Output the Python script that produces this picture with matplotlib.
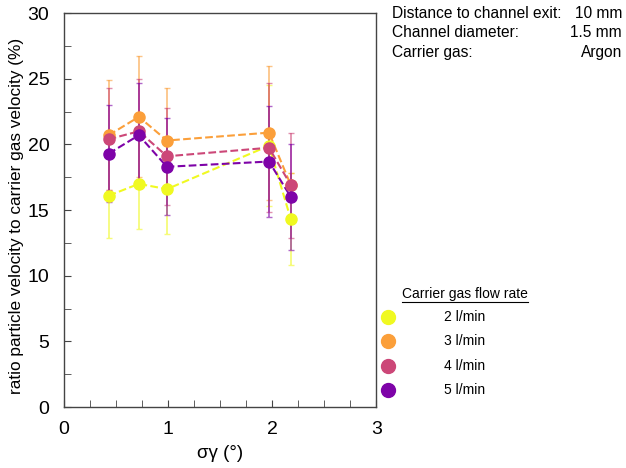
import numpy as np
import matplotlib.pyplot as plt
from matplotlib.lines import Line2D
from matplotlib.ticker import MultipleLocator

plt.rcParams['font.family'] = ['Liberation Sans', 'DejaVu Sans']

# sigma gamma (°)
sigma = [0.43, 0.72, 0.99, 1.97, 2.18]

flow_labels = ["2 l/min", "3 l/min", "4 l/min", "5 l/min"]
colors = ["#f0f921", "#fb9f3a", "#cc4778", "#7e03a8"]

# ratio particle / carrier gas velocity (%) and error
v2 = [16.1, 17.0, 16.6, 19.9, 14.3]
e2 = [3.2, 3.4, 3.4, 4.6, 3.5]
v3 = [20.7, 22.1, 20.3, 20.9, 16.9]
e3 = [4.2, 4.6, 4.0, 5.1, 0.9]
v4 = [20.4, 21.0, 19.1, 19.75, 16.9]
e4 = [3.9, 4.0, 3.7, 4.9, 4.0]
v5 = [19.3, 20.7, 18.3, 18.7, 16.0]
e5 = [3.7, 4.0, 3.7, 4.2, 4.0]

values = [v2, v3, v4, v5]
errors = [e2, e3, e4, e5]

fig = plt.figure(figsize=(6.26, 4.68), dpi=100)
ax = fig.add_axes([0.102, 0.130, 0.499, 0.842])

for v, e, c in zip(values, errors, colors):
    ax.errorbar(sigma, v, yerr=e, fmt='none', ecolor=c, elinewidth=1.3,
                capsize=2.5, capthick=1.0, alpha=0.6, zorder=2)
for v, e, c in zip(values, errors, colors):
    ax.plot(sigma, v, '--', color=c, lw=1.5, zorder=3)
    ax.plot(sigma, v, 'o', color=c, ms=8, zorder=4)

ax.set_xlim(0, 3)
ax.set_ylim(0, 30)
ax.xaxis.set_major_locator(MultipleLocator(1))
ax.xaxis.set_minor_locator(MultipleLocator(0.25))
ax.yaxis.set_major_locator(MultipleLocator(5))
ax.yaxis.set_minor_locator(MultipleLocator(2.5))
ax.tick_params(which='both', direction='in', length=5, color='#444444',
               labelsize=14, pad=10.5)
ax.tick_params(axis='x', pad=10)
for s in ax.spines.values():
    s.set_color('#444444')
    s.set_linewidth(1.0)

ax.set_xlabel("σγ (°)", fontsize=13.5, labelpad=5)
ax.set_ylabel("ratio particle velocity to carrier gas velocity (%)", fontsize=12.4)
ax.yaxis.set_label_coords(-0.128, 0.485)

# info block
info = [("Distance to channel exit:", "10 mm"),
        ("Channel diameter:", "1.5 mm"),
        ("Carrier gas:", "Argon")]
for i, (lab, val) in enumerate(info):
    y = 1 - (13 + 19.5 * i) / 468
    fig.text(392 / 626, y, lab, ha='left', va='center', fontsize=11.2)
    fig.text(622 / 626, y, val, ha='right', va='center', fontsize=11.2)

# legend
fig.text(465 / 626, 1 - 294 / 468, "Carrier gas flow rate", ha='center',
         va='center', fontsize=10)
fig.add_artist(Line2D([402 / 626, 528 / 626], [1 - 302 / 468, 1 - 302 / 468],
                      color='black', lw=0.8, transform=fig.transFigure))
for i, (lab, c) in enumerate(zip(flow_labels, colors)):
    y = 1 - (317 + 24.3 * i) / 468
    fig.add_artist(Line2D([388 / 626], [y], marker='o', ms=10, color=c,
                          transform=fig.transFigure))
    fig.text(444 / 626, y, lab, ha='left', va='center', fontsize=10)

fig.savefig("out.png", dpi=100)
